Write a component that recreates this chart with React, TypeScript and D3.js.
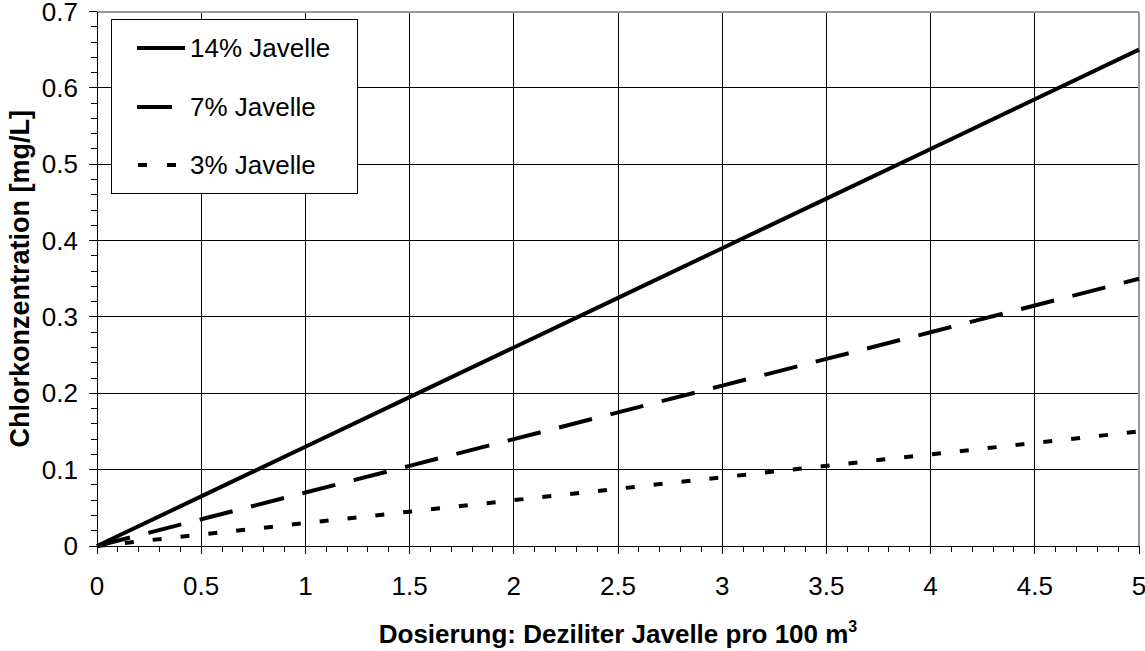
import React from "react";
import * as d3 from "d3";

// Dosierung in Deziliter pro 100 m3
const doses = [0, 0.5, 1, 1.5, 2, 2.5, 3, 3.5, 4, 4.5, 5];
// Chlorkonzentration [mg/L]
const javelle14 = [0, 0.065, 0.13, 0.195, 0.26, 0.325, 0.39, 0.455, 0.52, 0.585, 0.65];
const javelle7 = [0, 0.035, 0.07, 0.105, 0.14, 0.175, 0.21, 0.245, 0.28, 0.315, 0.35];
const javelle3 = [0, 0.015, 0.03, 0.045, 0.06, 0.075, 0.09, 0.105, 0.12, 0.135, 0.15];

const seriesNames = ["14% Javelle", "7% Javelle", "3% Javelle"];
const xTicks = [0, 0.5, 1, 1.5, 2, 2.5, 3, 3.5, 4, 4.5, 5];
const yTicks = [0, 0.1, 0.2, 0.3, 0.4, 0.5, 0.6, 0.7];

const WIDTH = 1145;
const HEIGHT = 651;
const margin = { top: 11.5, right: 6, bottom: 105, left: 97 };
const FONT = "'Liberation Sans', Arial, Helvetica, sans-serif";

export default function App() {
    const innerW = WIDTH - margin.left - margin.right;
    const innerH = HEIGHT - margin.top - margin.bottom;

    const x = d3.scaleLinear().domain([0, 5]).range([margin.left, margin.left + innerW]);
    const y = d3.scaleLinear().domain([0, 0.7]).range([margin.top + innerH, margin.top]);

    const line = d3.line<number>()
        .x((_, i) => x(doses[i]))
        .y(d => y(d));

    const series = [
        { name: seriesNames[0], values: javelle14, dash: null as string | null },
        { name: seriesNames[1], values: javelle7, dash: "34 19" },
        { name: seriesNames[2], values: javelle3, dash: "9 19" },
    ];

    const xMinor = d3.range(0, 51).map(i => i / 10);
    const yMinor = d3.range(0, 36).map(i => i / 50);
    const x0 = x(0);
    const y0 = y(0);

    // legend geometry
    const legend = { x: 111, y: 19, w: 246, h: 174 };
    const legendRows = [48, 107, 165];
    const legendSamples = [
        { x1: 137, x2: 185, dash: null as string | null },
        { x1: 137, x2: 172, dash: null as string | null },
        { x1: 138, x2: 177, dash: "9 20" },
    ];

    return (
        <svg
            width={WIDTH}
            height={HEIGHT}
            style={{ position: "absolute", left: 0, top: 0, background: "#fff" }}
            fontFamily={FONT}
        >
            {/* grid */}
            <g shapeRendering="crispEdges">
                {yTicks.slice(1, -1).map(t => (
                    <line key={"gy" + t} x1={x0} x2={x(5)} y1={y(t)} y2={y(t)} stroke="#000" strokeWidth={1} />
                ))}
                {xTicks.slice(1, -1).map(t => (
                    <line key={"gx" + t} x1={x(t)} x2={x(t)} y1={y(0)} y2={y(0.7)} stroke="#000" strokeWidth={1} />
                ))}
                {/* plot border top / right */}
                <line x1={x0} x2={x(5)} y1={y(0.7)} y2={y(0.7)} stroke="#999" strokeWidth={2} />
                <line x1={x(5)} x2={x(5)} y1={y(0)} y2={y(0.7)} stroke="#999" strokeWidth={2} />
            </g>

            {/* axes */}
            <g stroke="#000" strokeWidth={1} shapeRendering="crispEdges">
                <line x1={x0} x2={x0} y1={y(0.7)} y2={y0} />
                <line x1={x0} x2={x(5)} y1={y0} y2={y0} />
                {yMinor.map(t => (
                    <line key={"ym" + t} x1={x0 - 6} x2={x0} y1={y(t)} y2={y(t)} />
                ))}
                {yTicks.map(t => (
                    <line key={"yt" + t} x1={x0 - 8} x2={x0} y1={y(t)} y2={y(t)} />
                ))}
                {xMinor.map(t => (
                    <line key={"xm" + t} x1={x(t)} x2={x(t)} y1={y0} y2={y0 + 6} />
                ))}
                {xTicks.map(t => (
                    <line key={"xt" + t} x1={x(t)} x2={x(t)} y1={y0} y2={y0 + 8} />
                ))}
            </g>

            {/* tick labels */}
            <g fontSize={26} fill="#000">
                {yTicks.map(t => (
                    <text key={"yl" + t} x={x0 - 19} y={y(t)} textAnchor="end" dominantBaseline="central">
                        {d3.format("~g")(t)}
                    </text>
                ))}
                {xTicks.map(t => (
                    <text key={"xl" + t} x={x(t)} y={595} textAnchor="middle">
                        {d3.format("~g")(t)}
                    </text>
                ))}
            </g>

            {/* data lines */}
            <g fill="none" stroke="#000" strokeWidth={4}>
                {series.map(s => (
                    <path key={s.name} d={line(s.values) || ""} strokeDasharray={s.dash ?? undefined} />
                ))}
            </g>

            {/* legend */}
            <rect x={legend.x} y={legend.y} width={legend.w} height={legend.h} fill="#fff" stroke="#000" strokeWidth={1} shapeRendering="crispEdges" />
            {series.map((s, i) => (
                <g key={"lg" + s.name}>
                    <line
                        x1={legendSamples[i].x1}
                        x2={legendSamples[i].x2}
                        y1={legendRows[i]}
                        y2={legendRows[i]}
                        stroke="#000"
                        strokeWidth={4}
                        strokeDasharray={legendSamples[i].dash ?? undefined}
                    />
                    <text x={190} y={legendRows[i]} fontSize={26} dominantBaseline="central">
                        {s.name}
                    </text>
                </g>
            ))}

            {/* axis titles */}
            <text x={x(2.5)} y={643} textAnchor="middle" fontSize={26} fontWeight="bold">
                Dosierung: Deziliter Javelle pro 100 m
                <tspan fontSize={16} dy={-11}>3</tspan>
            </text>
            <text
                transform={`translate(29,${(y(0) + y(0.7)) / 2}) rotate(-90)`}
                textAnchor="middle"
                fontSize={27}
                fontWeight="bold"
            >
                Chlorkonzentration [mg/L]
            </text>
        </svg>
    );
}
